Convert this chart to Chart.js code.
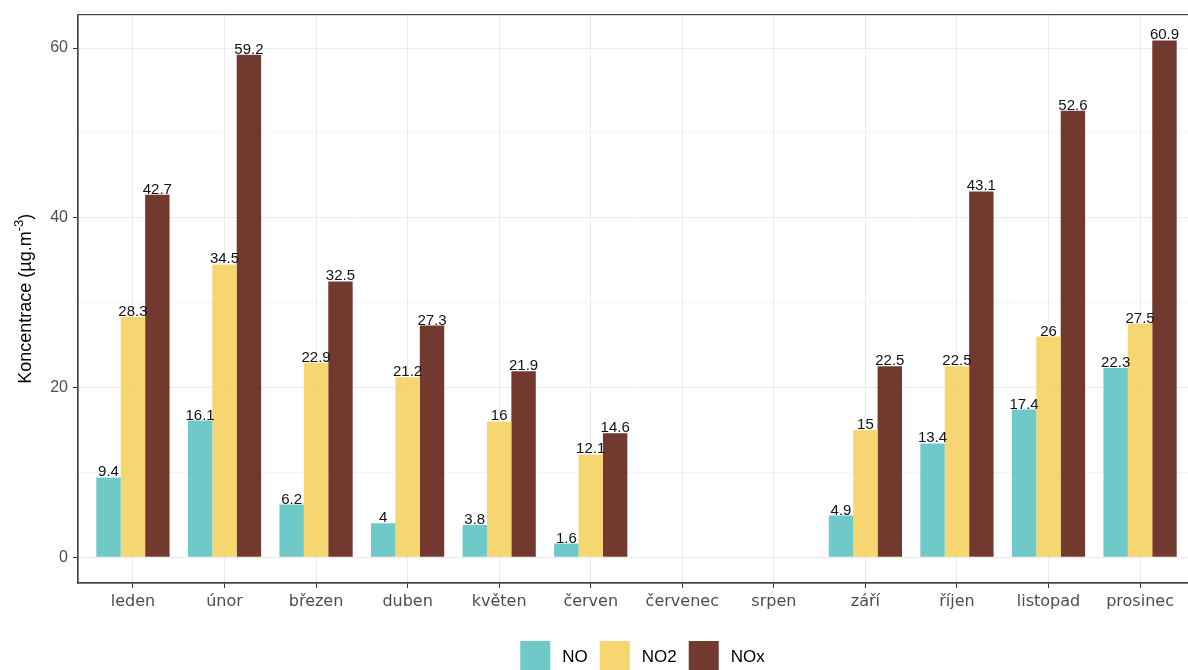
<!DOCTYPE html>
<html>
<head>
<meta charset="utf-8">
<script src="https://cdn.jsdelivr.net/npm/chart.js@4/dist/chart.umd.min.js"></script>
<style>
  html, body { margin: 0; padding: 0; background: #fff; overflow: hidden; }
  #wrap { width: 1200px; height: 670px; }
</style>
</head>
<body>
<div id="wrap"><canvas id="chart"></canvas></div>
<script>
// ===== data =====
const months = ['leden', 'únor', 'březen', 'duben', 'květen', 'červen', 'červenec', 'srpen', 'září', 'říjen', 'listopad', 'prosinec'];
const noValues = [9.4, 16.1, 6.2, 4, 3.8, 1.6, null, null, 4.9, 13.4, 17.4, 22.3];
const no2Values = [28.3, 34.5, 22.9, 21.2, 16, 12.1, null, null, 15, 22.5, 26, 27.5];
const noxValues = [42.7, 59.2, 32.5, 27.3, 21.9, 14.6, null, null, 22.5, 43.1, 52.6, 60.9];
const seriesNames = ['NO', 'NO2', 'NOx'];
const yTicks = [0, 10, 20, 30, 40, 50, 60];

const colors = ['rgba(95,195,195,0.9)', 'rgba(244,209,96,0.9)', 'rgba(99,37,24,0.9)'];
const FONT = '"Liberation Sans", Arial, sans-serif';

function toPoints(values) {
  return values.map((v, i) => ({ x: i + 1, y: v }));
}

// value labels above bars
const valueLabels = {
  id: 'valueLabels',
  afterDatasetsDraw(chart) {
    const ctx = chart.ctx;
    ctx.save();
    ctx.font = '15px ' + FONT;
    ctx.fillStyle = '#111';
    ctx.textAlign = 'center';
    ctx.textBaseline = 'alphabetic';
    chart.data.datasets.forEach((ds, di) => {
      const meta = chart.getDatasetMeta(di);
      meta.data.forEach((bar, i) => {
        const v = ds.data[i].y;
        if (v === null) return;
        ctx.fillText(String(v), bar.x, bar.y - 1);
      });
    });
    ctx.restore();
  }
};

// panel border, y title, legend
const frame = {
  id: 'frame',
  afterDraw(chart) {
    const ctx = chart.ctx;
    const a = chart.chartArea;
    ctx.save();
    ctx.strokeStyle = '#444';
    ctx.lineWidth = 1.2;
    ctx.strokeRect(a.left, a.top, a.right - a.left, a.bottom - a.top);

    // y title with superscript
    const main = 'Koncentrace (µg.m';
    const sup = '-3';
    const tail = ')';
    ctx.font = '18px ' + FONT;
    const w1 = ctx.measureText(main).width;
    const w3 = ctx.measureText(tail).width;
    ctx.font = '13px ' + FONT;
    const w2 = ctx.measureText(sup).width;
    const total = w1 + w2 + w3;
    ctx.translate(31, (a.top + a.bottom) / 2);
    ctx.rotate(-Math.PI / 2);
    ctx.fillStyle = '#000';
    ctx.textBaseline = 'alphabetic';
    ctx.textAlign = 'left';
    let x = -total / 2;
    ctx.font = '18px ' + FONT;
    ctx.fillText(main, x, 0);
    x += w1;
    ctx.font = '13px ' + FONT;
    ctx.fillText(sup, x, -8);
    x += w2;
    ctx.font = '18px ' + FONT;
    ctx.fillText(tail, x, 0);
    ctx.restore();

    // legend
    ctx.save();
    ctx.font = '17px ' + FONT;
    const box = 30, gap = 12;
    const widths = seriesNames.map(n => ctx.measureText(n).width);
    const legendW = widths.reduce((s, w) => s + box + gap + w, 0) + gap * (seriesNames.length - 1);
    let lx = (a.left + a.right) / 2 + 6 - legendW / 2;
    const ly = 641;
    ctx.textBaseline = 'middle';
    seriesNames.forEach((n, i) => {
      ctx.fillStyle = colors[i];
      ctx.fillRect(lx, ly, box, box);
      ctx.fillStyle = '#000';
      ctx.fillText(n, lx + box + gap, ly + box / 2 + 1);
      lx += box + gap + widths[i] + gap;
    });
    ctx.restore();
  }
};

new Chart(document.getElementById('chart'), {
  type: 'bar',
  data: {
    datasets: [
      { label: seriesNames[0], data: toPoints(noValues), backgroundColor: colors[0], categoryPercentage: 0.8, barPercentage: 1.0 },
      { label: seriesNames[1], data: toPoints(no2Values), backgroundColor: colors[1], categoryPercentage: 0.8, barPercentage: 1.0 },
      { label: seriesNames[2], data: toPoints(noxValues), backgroundColor: colors[2], categoryPercentage: 0.8, barPercentage: 1.0 }
    ]
  },
  options: {
    responsive: true,
    maintainAspectRatio: false,
    animation: false,
    layout: { padding: { top: 10, right: 5, bottom: 0, left: 0 } },
    plugins: { legend: { display: false }, tooltip: { enabled: false } },
    scales: {
      x: {
        type: 'linear',
        min: 0.4,
        max: 12.6,
        offset: false,
        afterBuildTicks: scale => { scale.ticks = months.map((m, i) => ({ value: i + 1 })); },
        afterFit: scale => { scale.height = 87; },
        grid: { offset: false, color: '#ebebeb', lineWidth: 1, tickLength: 5, tickColor: '#333' },
        border: { display: true, color: '#444', width: 1.2 },
        ticks: {
          autoSkip: false,
          maxRotation: 0,
          padding: 4,
          color: '#4d4d4d',
          font: { family: '"DejaVu Sans", sans-serif', size: 16 },
          callback: v => months[v - 1]
        }
      },
      y: {
        min: -3.045,
        max: 63.945,
        afterBuildTicks: scale => { scale.ticks = yTicks.map(v => ({ value: v })); },
        afterFit: scale => { scale.width = 78; },
        grid: {
          color: c => (c.tick && c.tick.value % 20 === 0) ? '#ebebeb' : '#f4f4f4',
          lineWidth: 1,
          tickLength: 5,
          tickColor: c => (c.tick && c.tick.value % 20 === 0) ? '#333' : 'rgba(0,0,0,0)'
        },
        border: { display: true, color: '#444', width: 1.2 },
        ticks: {
          padding: 5,
          color: '#4d4d4d',
          font: { family: FONT, size: 16 },
          callback: v => (v % 20 === 0 ? String(v) : '')
        }
      }
    }
  },
  plugins: [valueLabels, frame]
});
</script>
</body>
</html>
